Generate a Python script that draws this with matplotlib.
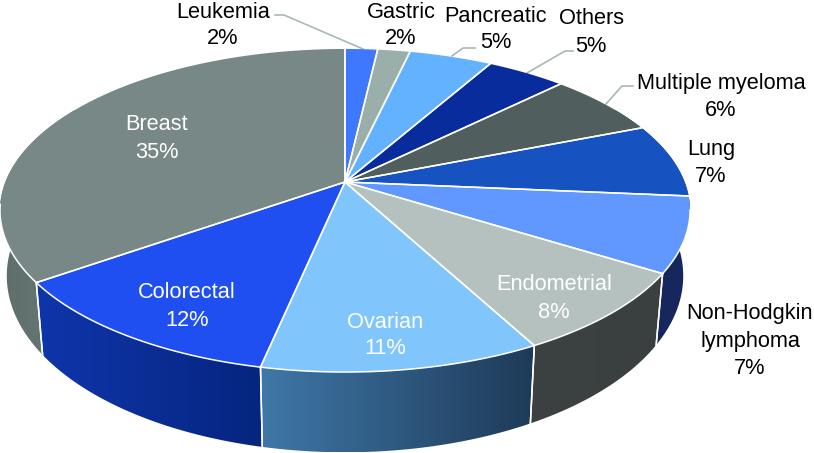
"""Perspective 3D pie of cancer types, drawn from the shares below."""
import numpy as np
import matplotlib
matplotlib.use("Agg")  # no display
import matplotlib.pyplot as plt
from matplotlib.colors import LinearSegmentedColormap
from matplotlib.patches import Polygon

plt.rcParams['font.family'] = ['Liberation Sans', 'DejaVu Sans']

# clockwise from 12 o'clock
categories = ["Leukemia", "Gastric", "Pancreatic", "Others", "Multiple myeloma", "Lung",
              "Non-Hodgkin\nlymphoma", "Endometrial", "Ovarian", "Colorectal", "Breast"]
printed_pct = [2, 2, 5, 5, 6, 7, 7, 8, 11, 12, 35]
# slice sizes (printed labels are rounded)
shares = [1.8, 1.8, 4.6, 4.4, 6.4, 7.4, 7.5, 8.3, 11.1, 11.9, 34.8]
top_colors = ["#3d78ff", "#9aaeaa", "#62b2ff", "#082c9c", "#505f5e", "#1653c0",
              "#6098ff", "#b4c1be", "#80c6fd", "#1f4ff0", "#778887"]

# rim gradients (left colour, right colour) for the slices that show a side
rim_colors = {
    "Non-Hodgkin\nlymphoma": ("#16285f", "#14255a"),
    "Endometrial": ("#3a3f40", "#3c4241"),
    "Ovarian": ("#1e3a58", "#3f78a8"),
    "Colorectal": ("#06257f", "#0f35ac"),
    "Breast": ("#6a7a78", "#5e6e6b"),
}

# label centre x, first line centre y, text colour
label_pos = {
    "Leukemia": (223, 12, "black"),
    "Gastric": (401, 12, "black"),
    "Pancreatic": (496, 16, "black"),
    "Others": (591, 19, "black"),
    "Multiple myeloma": (721, 84, "black"),
    "Lung": (711, 150, "black"),
    "Non-Hodgkin\nlymphoma": (750, 314, "black"),
    "Endometrial": (554, 285, "white"),
    "Ovarian": (385, 322, "white"),
    "Colorectal": (187, 293, "white"),
    "Breast": (157, 125, "white"),
}
leaders = [
    [(275, 15), (284, 15), (363, 49)],
    [(475, 48), (463, 48), (452, 56)],
    [(573, 51), (565, 51), (527, 73)],
    [(633, 86), (622, 86), (606, 104)],
]

# projection of the top and bottom discs, fitted to the picture
CX = 345
TOP = dict(cy=182, a=156.5, b=339.6, k=0.1765)
BOTTOM = dict(cy=245, a=171.0, b=333.0, k=0.175)


def project(theta, disc):
    u, v = np.sin(theta), np.cos(theta)
    d = 1 + disc['k'] * v
    return CX + disc['b'] * u / d, disc['cy'] - disc['a'] * v / d


def arc(start, end, disc):
    t = np.linspace(start, end, 120)
    return np.column_stack(project(t, disc))


fig = plt.figure(figsize=(8.14, 4.53), dpi=100)
ax = fig.add_axes([0, 0, 1, 1])
ax.set_xlim(0, 814)
ax.set_ylim(453, 0)
ax.axis('off')

edges = 2 * np.pi * np.concatenate([[0], np.cumsum(shares)]) / np.sum(shares)
spans = {c: (edges[i], edges[i + 1]) for i, c in enumerate(categories)}

# side walls first, the top faces cover whatever is hidden
for name, (c_left, c_right) in rim_colors.items():
    start, end = spans[name]
    if name == "Breast":
        end = np.radians(300)
    if name.startswith("Non"):
        start = np.radians(60)
    top = arc(start, end, TOP)
    bot = arc(start, end, BOTTOM)
    poly = Polygon(np.vstack([top, bot[::-1]]), closed=True, facecolor='none',
                   edgecolor='none', transform=ax.transData)
    ax.add_patch(poly)
    cmap = LinearSegmentedColormap.from_list(name, [c_left, c_right])
    x0, x1 = poly.get_xy()[:, 0].min(), poly.get_xy()[:, 0].max()
    y0, y1 = poly.get_xy()[:, 1].min(), poly.get_xy()[:, 1].max()
    im = ax.imshow(np.linspace(1, 0, 256)[None, :], cmap=cmap, aspect='auto',
                   extent=(x0, x1, y1, y0), zorder=1)
    im.set_clip_path(poly)
    # white seams between the walls
    for th in (spans[name][0], spans[name][1]):
        if np.radians(120) < th < np.radians(236):
            p = project(th, TOP)
            q = project(th, BOTTOM)
            ax.plot([p[0], q[0]], [p[1], q[1]], color='white', lw=1.1, zorder=2)

ax.set_xlim(0, 814)
ax.set_ylim(453, 0)

# top faces
for name, color in zip(categories, top_colors):
    start, end = spans[name]
    pts = np.vstack([[CX, TOP['cy']], arc(start, end, TOP)])
    ax.add_patch(Polygon(pts, closed=True, facecolor=color, edgecolor='none', zorder=3))
    ax.plot(pts[[1, 0, -1], 0], pts[[1, 0, -1], 1], color='white', lw=1.1,
            solid_joinstyle='miter', zorder=4)
    # pale edge where the top face meets the visible wall
    lit_start, lit_end = max(start, np.radians(100)), min(end, np.radians(262))
    if lit_start < lit_end:
        lit = arc(lit_start, lit_end, TOP)
        ax.plot(lit[:, 0], lit[:, 1], color='white', lw=1.1, zorder=4)

# leader lines
for path in leaders:
    xs, ys = zip(*path)
    ax.plot(xs, ys, color='#a9b8b5', lw=1.2, zorder=2)

# labels, one text per line so the spacing stays put
LINE_H = 27
for name, pct in zip(categories, printed_pct):
    x, y, color = label_pos[name]
    lines = name.split("\n") + [f"{pct}%"]
    for i, line in enumerate(lines):
        ax.text(x, y + i * LINE_H, line, color=color, fontsize=15.7,
                ha='center', va='center', zorder=5)

fig.savefig("out.png", dpi=100, facecolor='white')
